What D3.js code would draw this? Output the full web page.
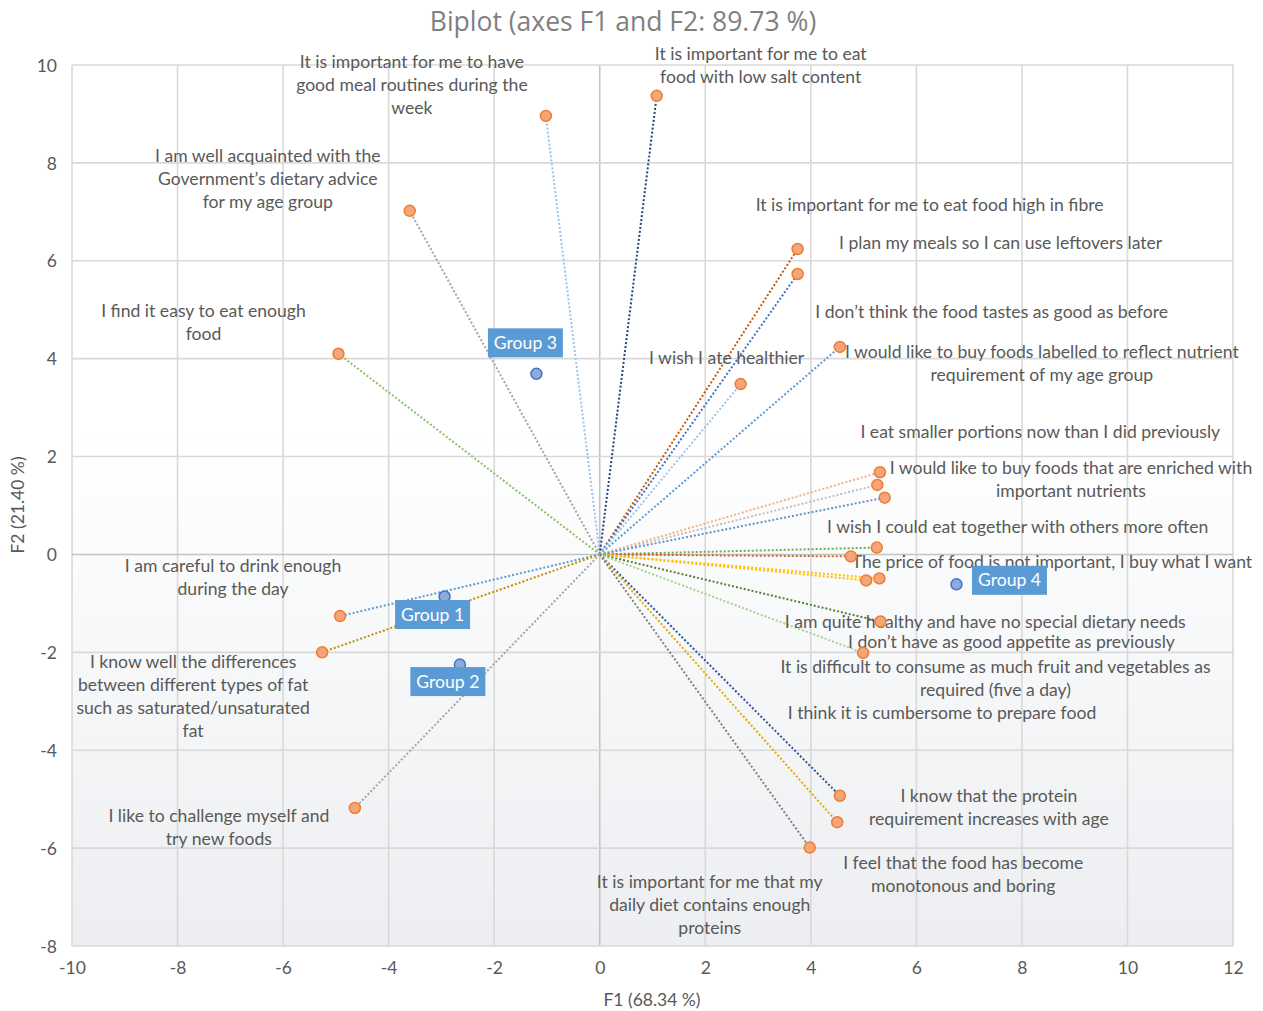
<!DOCTYPE html>
<html>
<head>
<meta charset="utf-8">
<script src="https://cdn.jsdelivr.net/npm/d3@7"></script>
<style>
  html, body { margin: 0; padding: 0; background: #ffffff; }
  svg { display: block; }
</style>
</head>
<body>
<svg id="chart" width="1263" height="1011"></svg>
<script>
// ---------- DATA ----------
const title = "Biplot (axes F1 and F2: 89.73 %)";
const xTitle = "F1 (68.34 %)";
const yTitle = "F2 (21.40 %)";
const xTicks = [-10, -8, -6, -4, -2, 0, 2, 4, 6, 8, 10, 12];
const yTicks = [-8, -6, -4, -2, 0, 2, 4, 6, 8, 10];

const variableNames = [
  ["It is important for me to have", "good meal routines during the", "week"],
  ["It is important for me to eat", "food with low salt content"],
  ["I am well acquainted with the", "Government’s dietary advice", "for my age group"],
  ["I find it easy to eat enough", "food"],
  ["It is important for me to eat food high in fibre"],
  ["I plan my meals so I can use leftovers later"],
  ["I would like to buy foods labelled to reflect nutrient", "requirement of my age group"],
  ["I wish I ate healthier"],
  ["I would like to buy foods that are enriched with", "important nutrients"],
  ["I eat smaller portions now than I did previously"],
  ["I don’t think the food tastes as good as before"],
  ["I wish I could eat together with others more often"],
  ["The price of food is not important, I buy what I want"],
  ["I am quite healthy and  have no special dietary needs"],
  ["I don’t have as good appetite as previously"],
  ["It is difficult to consume as much fruit and vegetables as", "required (five a day)"],
  ["I think it is cumbersome to prepare food"],
  ["I know that the protein", "requirement increases with age"],
  ["I feel that the food has become", "monotonous and boring"],
  ["It is important for me that my", "daily diet contains enough", "proteins"],
  ["I am careful to drink enough", "during the day"],
  ["I know well the differences", "between different types of fat", "such as saturated/unsaturated", "fat"],
  ["I like to challenge myself and", "try new foods"]
];
const variableF1 = [-1.02, 1.08, -3.60, -4.95, 3.75, 3.75, 4.55, 2.67, 5.31, 5.26, 5.40, 5.25, 4.76, 5.05, 5.30, 5.32, 4.99, 4.55, 4.50, 3.98, -4.92, -5.26, -4.64];
const variableF2 = [8.96, 9.37, 7.02, 4.10, 6.24, 5.73, 4.24, 3.48, 1.68, 1.42, 1.16, 0.14, -0.04, -0.53, -0.49, -1.37, -2.01, -4.93, -5.47, -5.99, -1.26, -2.00, -5.18];

const groupNames = ["Group 1", "Group 2", "Group 3", "Group 4"];
const groupF1 = [-2.94, -2.65, -1.20, 6.76];
const groupF2 = [-0.86, -2.25, 3.69, -0.61];

// ---------- STYLE / LAYOUT ----------
const lineColors = ["#9DC3E6", "#264478", "#A5A5A5", "#8CC168", "#C55A11", "#4472C4", "#5B9BD5", "#9DC3E6",
  "#F4B183", "#BFBFBF", "#698ED0", "#70AD47", "#D2622A", "#FFC000", "#FFC000", "#548235", "#A9D18E",
  "#2F5597", "#E2AC00", "#7F7F7F", "#5B9BD5", "#BF9000", "#A5A5A5"];
// label offsets (pixels) from the point to the centre of the label's first line
const labelOffsets = [[-134, -54], [104, -42], [-142, -55], [-135, -43], [132, -44], [203, -31], [202, 5], [-14, -26],
  [191, -4], [163, -53], [107, -186], [141, -21], [201, 5], [119, 41], [132, 63], [115, 45], [79, 60],
  [149, 0], [126, 41], [-100, 34], [-107, -50], [-129, 10], [-136, 8]];
const groupLabelOffsets = [[-12, 18], [-12, 17], [-11, -31], [53, -4]];

const margin = { left: 72, right: 1263 - 1233, top: 65, bottom: 1011 - 946 };
const W = 1263, H = 1011;
const labelFont = "Lato, 'Open Sans', sans-serif";
const labelSize = 17.6;
const lineH = 23;

const svg = d3.select("#chart");
const x = d3.scaleLinear().domain([-10, 12]).range([margin.left, W - margin.right]);
const y = d3.scaleLinear().domain([-8, 10]).range([H - margin.bottom, margin.top]);

// background gradient
const defs = svg.append("defs");
const grad = defs.append("linearGradient").attr("id", "bg").attr("x1", 0).attr("y1", 0).attr("x2", 0).attr("y2", 1);
grad.append("stop").attr("offset", "0%").attr("stop-color", "#ffffff");
grad.append("stop").attr("offset", "42%").attr("stop-color", "#ffffff");
grad.append("stop").attr("offset", "100%").attr("stop-color", "#eceef1");

svg.append("rect").attr("x", x(-10)).attr("y", y(10))
  .attr("width", x(12) - x(-10)).attr("height", y(-8) - y(10)).attr("fill", "url(#bg)");

// grid
const grid = svg.append("g");
grid.selectAll(".gx").data(xTicks).join("line")
  .attr("x1", d => x(d)).attr("x2", d => x(d)).attr("y1", y(10)).attr("y2", y(-8))
  .attr("stroke", d => d === 0 ? "#c4c4c4" : "#d9d9d9").attr("stroke-width", 1.6);
grid.selectAll(".gy").data(yTicks).join("line")
  .attr("y1", d => y(d)).attr("y2", d => y(d)).attr("x1", x(-10)).attr("x2", x(12))
  .attr("stroke", d => d === 0 ? "#c4c4c4" : "#d9d9d9").attr("stroke-width", 1.6);

// axes tick labels
const xAxis = svg.append("g").attr("transform", `translate(0,${y(-8)})`)
  .call(d3.axisBottom(x).tickValues(xTicks).tickSize(0).tickPadding(16).tickFormat(d => String(d)));
const yAxis = svg.append("g").attr("transform", `translate(${x(-10)},0)`)
  .call(d3.axisLeft(y).tickValues(yTicks).tickSize(0).tickPadding(15).tickFormat(d => String(d)));
[xAxis, yAxis].forEach(a => {
  a.select(".domain").remove();
  a.selectAll("text").attr("font-family", labelFont).attr("font-size", 17.5).attr("fill", "#595959");
});
yAxis.selectAll("text").attr("dy", "0.35em");

// axis titles
svg.append("text").attr("x", 652).attr("y", 1006).attr("text-anchor", "middle")
  .attr("font-family", labelFont).attr("font-size", 17.5).attr("fill", "#595959").text(xTitle);
svg.append("text").attr("transform", `translate(24,505) rotate(-90)`)
  .attr("text-anchor", "middle").attr("font-family", labelFont).attr("font-size", 17.5).attr("fill", "#595959").text(yTitle);

// title
svg.append("text").attr("x", 623).attr("y", 31).attr("text-anchor", "middle")
  .attr("font-family", "'Open Sans', sans-serif").attr("font-size", 26.5).attr("fill", "#808080").text(title);

// vectors
const vars = variableNames.map((n, i) => ({ name: n, f1: variableF1[i], f2: variableF2[i], color: lineColors[i], off: labelOffsets[i] }));
svg.append("g").selectAll("line").data(vars).join("line")
  .attr("x1", x(0)).attr("y1", y(0)).attr("x2", d => x(d.f1)).attr("y2", d => y(d.f2))
  .attr("stroke", d => d.color).attr("stroke-width", 2).attr("stroke-dasharray", "2,2");

// labels
const lab = svg.append("g").selectAll("text").data(vars).join("text")
  .attr("font-family", labelFont).attr("font-size", labelSize).attr("fill", "#595959")
  .attr("text-anchor", "middle");
lab.each(function (d) {
  const t = d3.select(this);
  d.name.forEach((ln, k) => {
    t.append("tspan").attr("x", x(d.f1) + d.off[0]).attr("y", y(d.f2) + d.off[1] + k * lineH)
      .attr("dy", "0.35em").text(ln);
  });
});

// variable points
svg.append("g").selectAll("circle").data(vars).join("circle")
  .attr("cx", d => x(d.f1)).attr("cy", d => y(d.f2)).attr("r", 5.5)
  .attr("fill", "#F4A67A").attr("stroke", "#ED7D31").attr("stroke-width", 1.5);

// group points
const groups = groupNames.map((n, i) => ({ name: n, f1: groupF1[i], f2: groupF2[i], off: groupLabelOffsets[i] }));
svg.append("g").selectAll("circle").data(groups).join("circle")
  .attr("cx", d => x(d.f1)).attr("cy", d => y(d.f2)).attr("r", 5.5)
  .attr("fill", "#8FAADC").attr("stroke", "#4472C4").attr("stroke-width", 1.5);

const gl = svg.append("g").selectAll("g").data(groups).join("g")
  .attr("transform", d => `translate(${x(d.f1) + d.off[0]},${y(d.f2) + d.off[1]})`);
gl.append("rect").attr("x", -37.5).attr("y", -14.5).attr("width", 75).attr("height", 29).attr("fill", "#5B9BD5");
gl.append("text").attr("text-anchor", "middle").attr("dy", "0.35em")
  .attr("font-family", labelFont).attr("font-size", labelSize).attr("fill", "#ffffff").text(d => d.name);
</script>
</body>
</html>
